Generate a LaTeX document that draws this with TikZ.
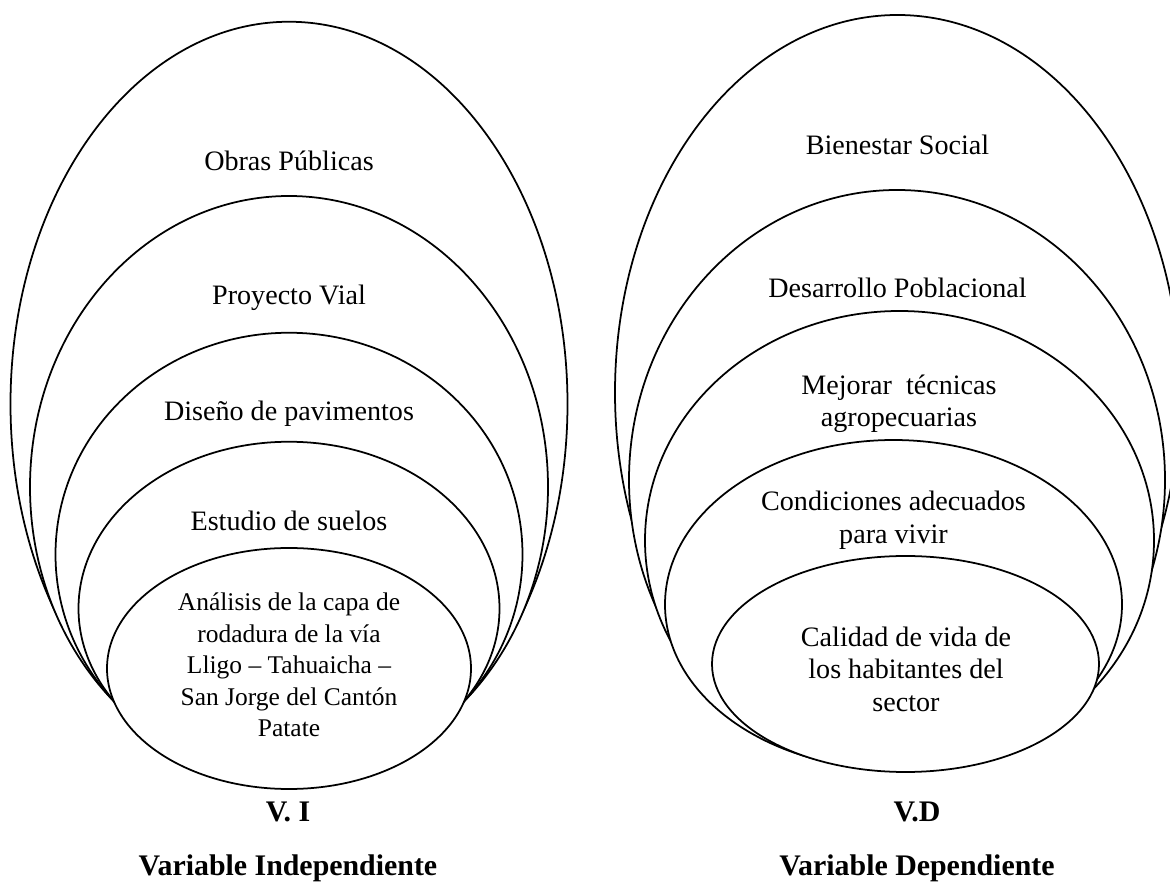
\documentclass[tikz,border=0pt]{standalone}
\usepackage{fontspec}
\setmainfont{Liberation Serif}
\usepackage{tikz}
\usetikzlibrary{shapes.geometric, positioning}

\begin{document}
\begin{tikzpicture}[
  ring/.style={ellipse, draw=black, fill=white, line width=1pt, inner sep=0pt},
  ringtext/.style={align=center, inner sep=0pt, font=\fontsize{16}{18.5}\selectfont},
  heading/.style={align=center, inner sep=0pt, font=\fontsize{17}{20}\selectfont\bfseries},
]

\clip (0,0) rectangle (23.4,17.86);

% === V. I (LEFT) ===
\node[ring, minimum width=11.14cm, minimum height=15.29cm] (obras) at (5.78, 9.78) {};
\node[ring, minimum width=10.36cm, minimum height=11.64cm] (proyecto) at (5.78, 8.12) {};
\node[ring, minimum width=9.34cm, minimum height=8.87cm] (diseno) at (5.78, 6.77) {};
\node[ring, minimum width=8.42cm, minimum height=6.67cm] (estudio) at (5.78, 5.69) {};
\node[ring, minimum width=7.28cm, minimum height=4.82cm] (analisis) at (5.78, 4.49) {};

\node[ringtext] (tobras) at (5.78, 14.64) {Obras Públicas};
\node[ringtext] (tproyecto) at (5.78, 11.90) {Proyecto Vial};
\node[ringtext] (tdiseno) at (5.78, 9.58) {Diseño de pavimentos};
\node[ringtext] (testudio) at (5.78, 7.44) {Estudio de suelos};
\node[ringtext, font=\fontsize{14.5}{17.9}\selectfont] (tanalisis) at (5.78, 4.56) {Análisis de la capa de\\rodadura de la vía\\Lligo -- Tahuaicha --\\San Jorge del Cantón\\Patate};

\node[heading] (vi) at (5.76, 1.62) {V. I};
\node[heading] (vilong) at (5.76, 0.50) {Variable Independiente};

% === V.D (RIGHT) ===
\node[ring, minimum width=11.3cm, minimum height=15.1cm] (bienestar) at (17.95, 10.01) {};
\node[ring, minimum width=10.72cm, minimum height=11.6cm] (desarrollo) at (17.94, 8.26) {};
\node[ring, minimum width=10.18cm, minimum height=9.18cm] (mejorar) at (17.99, 7.05) {};
\node[ring, minimum width=9.14cm, minimum height=6.58cm] (condiciones) at (17.87, 5.77) {};
\node[ring, minimum width=7.74cm, minimum height=4.32cm] (calidad) at (18.11, 4.58) {};

\node[ringtext] (tbienestar) at (17.95, 14.96) {Bienestar Social};
\node[ringtext] (tdesarrollo) at (17.95, 12.10) {Desarrollo Poblacional};
\node[ringtext] (tmejorar) at (17.98, 9.78) {Mejorar~ técnicas\\agropecuarias};
\node[ringtext] (tcondiciones) at (17.87, 7.46) {Condiciones adecuados\\para vivir};
\node[ringtext] (tcalidad) at (18.12, 4.48) {Calidad de vida de\\los habitantes del\\sector};

\node[heading] (vd) at (18.34, 1.62) {V.D};
\node[heading] (vdlong) at (18.34, 0.50) {Variable Dependiente};

\end{tikzpicture}
\end{document}
